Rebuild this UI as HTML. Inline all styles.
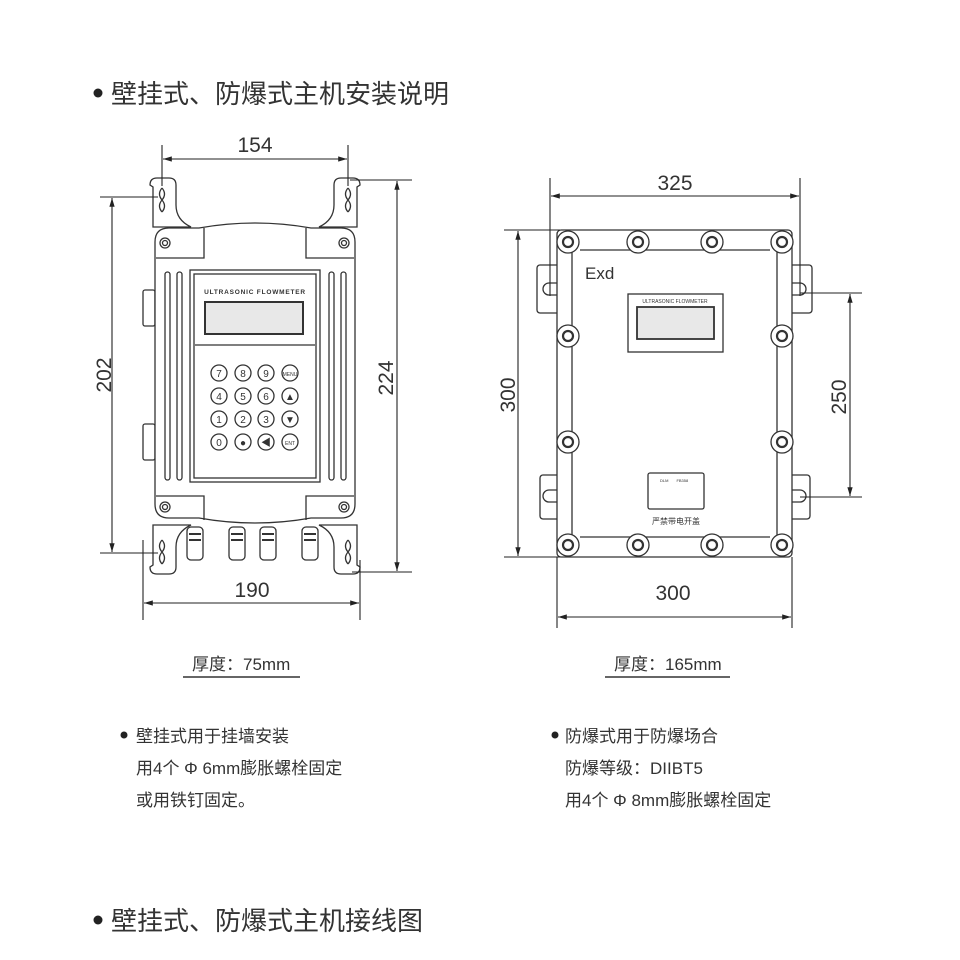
<!DOCTYPE html>
<html><head><meta charset="utf-8"><style>
html,body{margin:0;padding:0;background:#fff}
svg{display:block}
text{font-family:"Liberation Sans","Noto Sans CJK SC",sans-serif;fill:#333}
</style></head><body>
<svg width="960" height="960" viewBox="0 0 960 960" xmlns="http://www.w3.org/2000/svg">
<defs>
<marker id="a" viewBox="0 0 10 10" refX="10" refY="5" markerWidth="8" markerHeight="8" orient="auto-start-reverse"><path d="M0,2 L10,5 L0,8 z" fill="#222"/></marker>
</defs>
<!-- titles -->
<circle cx="98" cy="93" r="4.5" fill="#222"/>
<text x="111" y="103" font-size="26" fill="#333">壁挂式、防爆式主机安装说明</text>
<circle cx="98" cy="920" r="4.5" fill="#222"/>
<text x="111" y="930" font-size="26" fill="#333">壁挂式、防爆式主机接线图</text>

<g fill="none" stroke="#333" stroke-width="1.3">
<!-- LEFT DEVICE brackets -->
<path d="M150,185 q0,-7 7,-7 h12 q7,0 7,7 v20 q0,15 15,22 h-38 v-40z" fill="#fff"/>
<path d="M360,185 q0,-7 -7,-7 h-12 q-7,0 -7,7 v20 q0,15 -15,22 h38 v-40z" fill="#fff"/>
<path d="M150,567 q0,7 7,7 h12 q7,0 7,-7 v-20 q0,-15 15,-22 h-38 v40z" fill="#fff"/>
<path d="M360,567 q0,7 -7,7 h-12 q-7,0 -7,-7 v-20 q0,-15 -15,-22 h38 v40z" fill="#fff"/>
<path d="M162,188 q-5,6 0,12 q5,6 0,12 M162,188 q5,6 0,12 q-5,6 0,12" />
<path d="M348,188 q-5,6 0,12 q5,6 0,12 M348,188 q5,6 0,12 q-5,6 0,12" />
<path d="M162,540 q-5,6 0,12 q5,6 0,12 M162,540 q5,6 0,12 q-5,6 0,12" />
<path d="M348,540 q-5,6 0,12 q5,6 0,12 M348,540 q5,6 0,12 q-5,6 0,12" />
<!-- side knobs -->
<rect x="143" y="290" width="12" height="36" rx="2" fill="#fff"/>
<rect x="143" y="424" width="12" height="36" rx="2" fill="#fff"/>
<!-- body -->
<path d="M155,242 q0,-14 14,-14 h30 q56,-10 112,0 h30 q14,0 14,14 v262 q0,14 -14,14 h-30 q-56,10 -112,0 h-30 q-14,0 -14,-14z" fill="#fff"/>
<path d="M156,258 h48 v-30 M354,258 h-48 v-30 M156,496 h48 v24 M354,496 h-48 v24"/>
<circle cx="165" cy="243" r="5"/><circle cx="165" cy="243" r="2.5"/>
<circle cx="344" cy="243" r="5"/><circle cx="344" cy="243" r="2.5"/>
<circle cx="165" cy="507" r="5"/><circle cx="165" cy="507" r="2.5"/>
<circle cx="344" cy="507" r="5"/><circle cx="344" cy="507" r="2.5"/>
<!-- slots -->
<rect x="165" y="272" width="5" height="208" rx="2.5"/>
<rect x="177" y="272" width="5" height="208" rx="2.5"/>
<rect x="329" y="272" width="5" height="208" rx="2.5"/>
<rect x="341" y="272" width="5" height="208" rx="2.5"/>
<!-- panel -->
<rect x="190" y="270" width="130" height="212" />
<rect x="194" y="274" width="122" height="204" />
<line x1="195" y1="345" x2="315" y2="345"/>
<rect x="205" y="302" width="98" height="32" fill="#e8e8e8" stroke-width="2"/>
<!-- glands -->
<g fill="#fff">
<rect x="187" y="527" width="16" height="33" rx="4"/><rect x="229" y="527" width="16" height="33" rx="4"/>
<rect x="260" y="527" width="16" height="33" rx="4"/><rect x="302" y="527" width="16" height="33" rx="4"/>
</g>
<path d="M189,534 h12 M189,540 h12 M231,534 h12 M231,540 h12 M262,534 h12 M262,540 h12 M304,534 h12 M304,540 h12" stroke-width="2"/>
<!-- keypad -->
<g>
<circle cx="219" cy="373" r="8"/><circle cx="243" cy="373" r="8"/><circle cx="266" cy="373" r="8"/><circle cx="290" cy="373" r="8"/>
<circle cx="219" cy="396" r="8"/><circle cx="243" cy="396" r="8"/><circle cx="266" cy="396" r="8"/><circle cx="290" cy="396" r="8"/>
<circle cx="219" cy="419" r="8"/><circle cx="243" cy="419" r="8"/><circle cx="266" cy="419" r="8"/><circle cx="290" cy="419" r="8"/>
<circle cx="219" cy="442" r="8"/><circle cx="243" cy="442" r="8"/><circle cx="266" cy="442" r="8"/><circle cx="290" cy="442" r="8"/>
</g>

<!-- RIGHT DEVICE lugs -->
<g fill="#fff">
<rect x="537" y="265" width="24" height="48" rx="3"/>
<rect x="540" y="475" width="22" height="44" rx="3"/>
<rect x="788" y="265" width="24" height="48" rx="3"/>
<rect x="788" y="475" width="22" height="44" rx="3"/>
</g>
<path d="M557,283 h-8 a6,6 0 0 0 0,12 h8 M557,490 h-8 a6,6 0 0 0 0,12 h8 M792,283 h8 a6,6 0 0 1 0,12 h-8 M792,490 h8 a6,6 0 0 1 0,12 h-8"/>
<rect x="557" y="230" width="235" height="327" rx="4" fill="#fff"/>
<path d="M572,252 v285 M777,252 v285 M580,250 h190 M580,537 h190"/>
<g fill="#fff">
<circle cx="568" cy="242" r="11"/><circle cx="638" cy="242" r="11"/><circle cx="712" cy="242" r="11"/><circle cx="782" cy="242" r="11"/>
<circle cx="568" cy="545" r="11"/><circle cx="638" cy="545" r="11"/><circle cx="712" cy="545" r="11"/><circle cx="782" cy="545" r="11"/>
<circle cx="568" cy="336" r="11"/><circle cx="782" cy="336" r="11"/>
<circle cx="568" cy="442" r="11"/><circle cx="782" cy="442" r="11"/>
</g>
<g stroke-width="2.2">
<circle cx="568" cy="242" r="5"/><circle cx="638" cy="242" r="5"/><circle cx="712" cy="242" r="5"/><circle cx="782" cy="242" r="5"/>
<circle cx="568" cy="545" r="5"/><circle cx="638" cy="545" r="5"/><circle cx="712" cy="545" r="5"/><circle cx="782" cy="545" r="5"/>
<circle cx="568" cy="336" r="5"/><circle cx="782" cy="336" r="5"/>
<circle cx="568" cy="442" r="5"/><circle cx="782" cy="442" r="5"/>
</g>
<rect x="628" y="294" width="95" height="58"/>
<rect x="637" y="307" width="77" height="32" fill="#e8e8e8" stroke-width="1.8"/>
<rect x="648" y="473" width="56" height="36" rx="2"/>

<!-- DIMENSIONS -->
<g stroke="#222" stroke-width="1.1">
<line x1="162" y1="145" x2="162" y2="186"/><line x1="348" y1="145" x2="348" y2="186"/>
<line x1="163" y1="159" x2="347" y2="159" marker-start="url(#a)" marker-end="url(#a)"/>
<line x1="100" y1="197" x2="158" y2="197"/><line x1="100" y1="553" x2="158" y2="553"/>
<line x1="112" y1="198" x2="112" y2="552" marker-start="url(#a)" marker-end="url(#a)"/>
<line x1="350" y1="180" x2="412" y2="180"/><line x1="352" y1="572" x2="412" y2="572"/>
<line x1="397" y1="181" x2="397" y2="571" marker-start="url(#a)" marker-end="url(#a)"/>
<line x1="143" y1="540" x2="143" y2="620"/><line x1="360" y1="560" x2="360" y2="620"/>
<line x1="144" y1="603" x2="359" y2="603" marker-start="url(#a)" marker-end="url(#a)"/>

<line x1="550" y1="178" x2="550" y2="296"/><line x1="800" y1="178" x2="800" y2="296"/>
<line x1="551" y1="196" x2="799" y2="196" marker-start="url(#a)" marker-end="url(#a)"/>
<line x1="504" y1="230" x2="560" y2="230"/><line x1="504" y1="557" x2="560" y2="557"/>
<line x1="518" y1="231" x2="518" y2="556" marker-start="url(#a)" marker-end="url(#a)"/>
<line x1="800" y1="293" x2="862" y2="293"/><line x1="800" y1="497" x2="862" y2="497"/>
<line x1="850" y1="294" x2="850" y2="496" marker-start="url(#a)" marker-end="url(#a)"/>
<line x1="557" y1="557" x2="557" y2="628"/><line x1="792" y1="557" x2="792" y2="628"/>
<line x1="558" y1="617" x2="791" y2="617" marker-start="url(#a)" marker-end="url(#a)"/>
</g>
</g>

<!-- keypad labels -->
<g font-size="10" text-anchor="middle" fill="#333">
<text x="219" y="377">7</text><text x="243" y="377">8</text><text x="266" y="377">9</text><text x="290" y="376" font-size="5">MENU</text>
<text x="219" y="400">4</text><text x="243" y="400">5</text><text x="266" y="400">6</text><text x="290" y="400">▲</text>
<text x="219" y="423">1</text><text x="243" y="423">2</text><text x="266" y="423">3</text><text x="290" y="423">▼</text>
<text x="219" y="446">0</text><text x="243" y="446">●</text><text x="266" y="446">◀</text><text x="290" y="445" font-size="5">ENT</text>
</g>
<text x="255" y="294" font-size="6.5" font-weight="bold" text-anchor="middle" letter-spacing="0.8">ULTRASONIC FLOWMETER</text>
<text x="675" y="303" font-size="5" text-anchor="middle">ULTRASONIC FLOWMETER</text>
<text x="585" y="279" font-size="17" fill="#333">Exd</text>
<text x="676" y="524" font-size="8" text-anchor="middle" fill="#777">严禁带电开盖</text>
<text x="660" y="482" font-size="4" fill="#777">DLM　　FB358</text>

<!-- dim labels -->
<g font-size="21" text-anchor="middle" fill="#333">
<text x="255" y="152">154</text>
<text x="252" y="597">190</text>
<text x="675" y="190">325</text>
<text x="673" y="600">300</text>
<text transform="translate(111,375) rotate(-90)">202</text>
<text transform="translate(393,378) rotate(-90)">224</text>
<text transform="translate(515,395) rotate(-90)">300</text>
<text transform="translate(846,397) rotate(-90)">250</text>
</g>

<!-- notes -->
<text x="192" y="670" font-size="17">厚度：75mm</text>
<line x1="183" y1="677" x2="300" y2="677" stroke="#666" stroke-width="2"/>
<text x="614" y="670" font-size="17">厚度：165mm</text>
<line x1="605" y1="677" x2="730" y2="677" stroke="#666" stroke-width="2"/>

<circle cx="124" cy="735" r="3.5" fill="#222"/>
<g font-size="17" fill="#333">
<text x="136" y="742">壁挂式用于挂墙安装</text>
<text x="136" y="774">用4个 Φ 6mm膨胀螺栓固定</text>
<text x="136" y="806">或用铁钉固定。</text>
</g>
<circle cx="555" cy="735" r="3.5" fill="#222"/>
<g font-size="17" fill="#333">
<text x="565" y="742">防爆式用于防爆场合</text>
<text x="565" y="774">防爆等级：DIIBT5</text>
<text x="565" y="806">用4个 Φ 8mm膨胀螺栓固定</text>
</g>
</svg>
</body></html>
